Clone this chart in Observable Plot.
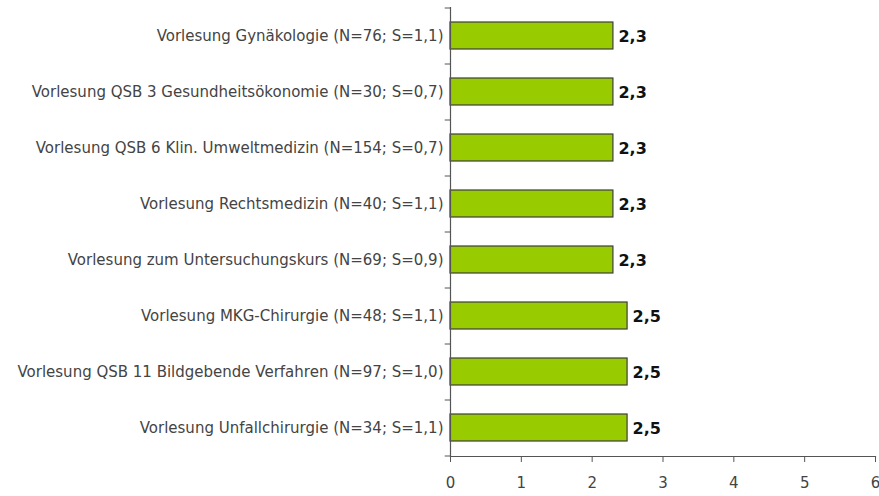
<!DOCTYPE html>
<html>
<head>
<meta charset="utf-8">
<script src="https://cdn.jsdelivr.net/npm/d3@7"></script>
<script src="https://cdn.jsdelivr.net/npm/@observablehq/plot@0.6"></script>
<style>
  html, body { margin: 0; padding: 0; background: #fff; }
  #chart svg { display: block; }
</style>
</head>
<body>
<div id="chart"></div>
<script>
const categories = [
  "Vorlesung Gynäkologie (N=76; S=1,1)",
  "Vorlesung QSB 3 Gesundheitsökonomie (N=30; S=0,7)",
  "Vorlesung QSB 6 Klin. Umweltmedizin (N=154; S=0,7)",
  "Vorlesung Rechtsmedizin (N=40; S=1,1)",
  "Vorlesung zum Untersuchungskurs (N=69; S=0,9)",
  "Vorlesung MKG-Chirurgie (N=48; S=1,1)",
  "Vorlesung QSB 11 Bildgebende Verfahren (N=97; S=1,0)",
  "Vorlesung Unfallchirurgie (N=34; S=1,1)"
];
const values = [2.3, 2.3, 2.3, 2.3, 2.3, 2.5, 2.5, 2.5];
const xTicks = [0, 1, 2, 3, 4, 5, 6];

const data = categories.map((c, i) => ({category: c, value: values[i]}));
const fmt = v => v.toFixed(1).replace(".", ",");

const chart = Plot.plot({
  width: 879,
  height: 496,
  marginTop: 7,
  marginBottom: 40,
  marginLeft: 450,
  marginRight: 4,
  style: {fontFamily: "DejaVu Sans, sans-serif", fontSize: "14px", color: "#333", background: "#fff"},
  x: {domain: [0, 6], ticks: xTicks, tickFormat: d => String(d)},
  y: {domain: categories, paddingInner: 0.52, paddingOuter: 0.26},
  marks: [
    Plot.barX(data, {y: "category", x: "value", fill: "#99cc00", stroke: "#3d3d3d", strokeWidth: 1.2}),
    Plot.text(data, {y: "category", x: "value", text: d => fmt(d.value), textAnchor: "start", dx: 5, dy: 1, fontWeight: "bold", fontSize: 16, fill: "#111", fontFamily: "DejaVu Sans, sans-serif", style: "letter-spacing:-0.5px"}),
    Plot.ruleY(categories, {y: d => d, x1: -0.075, x2: 0, dy: -28, stroke: "#555"}),
    Plot.ruleY(categories.slice(-1), {y: d => d, x1: -0.075, x2: 0, dy: 28, stroke: "#555"}),
    Plot.ruleX([0], {stroke: "#555", strokeWidth: 1.2}),
    Plot.frame({anchor: "bottom", stroke: "#555", strokeWidth: 1.2}),
    Plot.axisX({tickSize: 6, tickPadding: 15, stroke: "#555", fill: "#444", fontSize: 15, label: null}),
    Plot.axisY({tickSize: 0, tickPadding: 7, fill: "#444", fontSize: 15, label: null, style: "letter-spacing:0.1px"})
  ]
});
document.getElementById("chart").appendChild(chart);
</script>
</body>
</html>
